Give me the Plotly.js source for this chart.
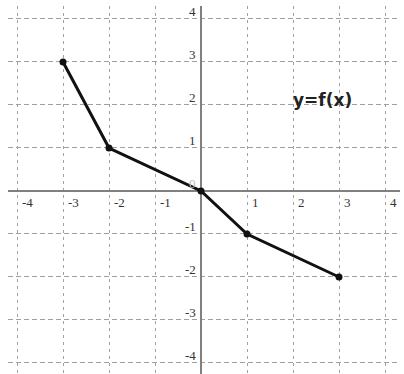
<!DOCTYPE html>
<html>
<head>
<meta charset="utf-8">
<script src="https://cdn.plot.ly/plotly-3.0.1.min.js"></script>
<style>
  html, body { margin: 0; padding: 0; background: #fff; }
  #chart { width: 404px; height: 374px; }
</style>
</head>
<body>
<div id="chart"></div>
<script>
// Piecewise-linear function y = f(x)
const xValues = [-3, -2, 0, 1, 3];
const yValues = [3, 1, 0, -1, -2];

// Tick labels along each axis
const xTicks = [-4, -3, -2, -1, 1, 2, 3, 4];
const yTicks = [-4, -3, -2, -1, 0, 1, 2, 3, 4];
const gridVals = [-4, -3, -2, -1, 0, 1, 2, 3, 4];

const functionLabel = 'y=f(x)';
const labelAt = { x: 2.65, y: 2.12 };

const tickFont = { family: 'Liberation Serif', size: 13, color: '#333' };

const annotations = [];
xTicks.forEach(v => annotations.push({
  x: v, y: 0, xref: 'x', yref: 'y', text: String(v), showarrow: false,
  xanchor: 'left', yanchor: 'middle', xshift: 3, yshift: -12, font: tickFont
}));
yTicks.forEach(v => annotations.push({
  x: 0, y: v, xref: 'x', yref: 'y', text: String(v), showarrow: false,
  xanchor: 'right', yanchor: 'middle', xshift: -3, yshift: 7,
  font: v === 0 ? Object.assign({}, tickFont, { color: '#bbb' }) : tickFont
}));
annotations.push({
  x: labelAt.x, y: labelAt.y, xref: 'x', yref: 'y', text: functionLabel,
  showarrow: false, xanchor: 'center', yanchor: 'middle',
  font: { family: 'DejaVu Sans, sans-serif', size: 17, color: '#222', weight: 'bold' }
});

const trace = {
  x: xValues, y: yValues, type: 'scatter', mode: 'lines+markers',
  line: { color: '#111', width: 3 },
  marker: { color: '#111', size: 7 },
  hoverinfo: 'skip'
};

const layout = {
  width: 404, height: 374,
  margin: { l: 8, r: 4, t: 6, b: 0 },
  paper_bgcolor: '#fff', plot_bgcolor: '#fff',
  showlegend: false,
  xaxis: {
    range: [-4.196, 4.326], tickmode: 'array', tickvals: gridVals,
    showticklabels: false, ticks: '',
    showgrid: true, gridcolor: '#a0a0a0', gridwidth: 1, griddash: '3px,4px',
    zeroline: true, zerolinecolor: '#808080', zerolinewidth: 2,
    showline: false, fixedrange: true
  },
  yaxis: {
    range: [-4.256, 4.302], tickmode: 'array', tickvals: gridVals,
    showticklabels: false, ticks: '',
    showgrid: true, gridcolor: '#a0a0a0', gridwidth: 1, griddash: '5px,3px',
    zeroline: true, zerolinecolor: '#808080', zerolinewidth: 2,
    showline: false, fixedrange: true
  },
  annotations: annotations
};

Plotly.newPlot('chart', [trace], layout, { staticPlot: true, displayModeBar: false });
</script>
</body>
</html>
